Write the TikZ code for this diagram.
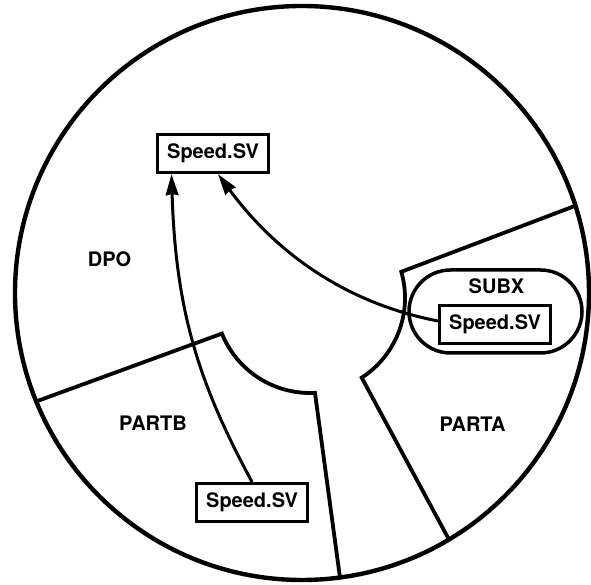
\documentclass[tikz,border=0pt]{standalone}
\usepackage{fontspec}
\setmainfont{TeX Gyre Heros}
\usetikzlibrary{arrows.meta,calc}
\tikzset{
  lbl/.style={font=\bfseries\fontsize{20}{24}\selectfont, inner sep=0pt},
  svbox/.style={draw, line width=3.2pt, minimum width=111pt, minimum height=38pt, inner sep=0pt, font=\bfseries\fontsize{20}{24}\selectfont},
  part/.style={line width=3.8pt, line join=miter},
  arr/.style={line width=3pt, -{Stealth[length=21pt,width=12.5pt,inset=1pt]}},
}
\begin{document}
\begin{tikzpicture}[x=1pt,y=1pt]
\useasboundingbox (0,0) rectangle (591,585);
\coordinate (O) at (302,292);
\coordinate (H) at (310,287);
% outer circle
\draw[line width=4.4pt] (O) circle[radius=287pt];
% partition boundaries
\coordinate (cL) at ($(O)+(202.2:287)$);
\coordinate (hL) at ($(H)+(202:95)$);
\coordinate (cB) at ($(O)+(277.6:287)$);
\coordinate (cR) at ($(O)+(17.7:287)$);
\coordinate (hR) at ($(H)+(16:95)$);
\coordinate (cBR) at ($(O)+(-59.2:287)$);
\draw[part] (cL) -- (hL) arc[start angle=202, end angle=273, radius=95pt] -- (cB);
\draw[part] (cR) -- (hR) arc[start angle=16, end angle=-57, radius=95pt] -- (cBR);
% SUBX region
\node[draw, line width=3.5pt, rounded corners=41.5pt, minimum width=173pt, minimum height=83pt] (subx) at (495.5,273.5) {};
\node[lbl] (subxl) at (496.5,298.3) {SUBX};
% labels
\node[lbl] (dpo) at (109.5,326) {DPO};
\node[lbl] (partb) at (153,161.5) {PARTB};
\node[lbl] (parta) at (472.5,160.5) {PARTA};
% boxes
\node[svbox] (tbox) at (213,431.5) {Speed.SV};
\node[svbox] (bbox) at (252,82.5) {Speed.SV};
\node[svbox, fill=white] (sbox) at (495,260.5) {Speed.SV};
% connectors
\draw[arr] (bbox.north) .. controls (200.3,198.8) and (175.7,271) .. ([xshift=-41.5pt]tbox.south);
\draw[arr] ([yshift=3.5pt]sbox.west) .. controls (330,285) and (265,347) .. ([xshift=5pt]tbox.south);
\end{tikzpicture}
\end{document}
